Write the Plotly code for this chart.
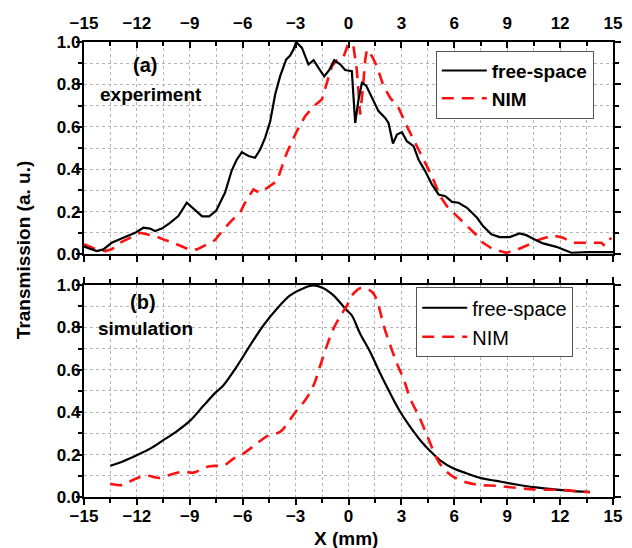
import plotly.graph_objects as go

# ---------------- data ----------------
# (a) experiment
exp_fs_x = [-15.0, -14.6, -14.28, -13.9, -13.43, -12.77, -12.1, -11.63, -11.25, -10.97, -10.59, -10.12,
            -9.65, -9.17, -8.7, -8.3, -7.9, -7.5, -7.0, -6.62, -6.34, -6.05, -5.67, -5.30, -5.01, -4.73,
            -4.44, -4.16, -3.88, -3.54, -3.31, -3.12, -2.97, -2.64, -2.27, -1.98, -1.70, -1.38, -1.08,
            -0.81, -0.47, -0.19, 0.19, 0.38, 0.57, 0.76, 1.0, 1.33, 1.70, 2.08, 2.27, 2.52, 2.75, 3.03,
            3.31, 3.69, 3.97, 4.35, 4.73, 5.11, 5.49, 5.87, 6.24, 6.72, 7.29, 7.63, 8.10, 8.57, 9.14,
            9.70, 10.08, 10.56, 11.03, 11.79, 12.26, 12.64, 13.49, 15.0]
exp_fs_y = [0.035, 0.022, 0.014, 0.022, 0.053, 0.077, 0.10, 0.124, 0.12, 0.108, 0.12, 0.147,
            0.179, 0.242, 0.205, 0.178, 0.178, 0.205, 0.29, 0.395, 0.445, 0.48, 0.462, 0.454, 0.493, 0.548,
            0.626, 0.752, 0.838, 0.917, 0.936, 0.964, 1.0, 0.972, 0.894, 0.914, 0.878, 0.838, 0.87,
            0.914, 0.895, 0.868, 0.862, 0.618, 0.729, 0.807, 0.795, 0.736, 0.674, 0.642, 0.618, 0.521, 0.564, 0.575,
            0.532, 0.509, 0.446, 0.391, 0.328, 0.281, 0.273, 0.246, 0.242, 0.218, 0.171, 0.132, 0.093, 0.08, 0.08,
            0.097, 0.089, 0.069, 0.05, 0.034, 0.017, 0.006, 0.009, 0.009]

exp_nim_x = [-15.0, -14.47, -13.8, -13.43, -12.96, -12.39, -11.82, -11.44, -10.87, -10.5, -9.74, -8.98,
             -8.6, -8.13, -7.57, -7.09, -6.6, -6.15, -5.77, -5.39, -5.05, -4.73, -4.06, -3.50, -2.93, -2.46,
             -1.98, -1.51, -1.22, -0.94, -0.66, -0.3, 0.0, 0.28, 0.47, 0.66, 0.81, 0.95, 1.04, 1.33, 1.61,
             1.99, 2.37, 2.84, 3.31, 3.78, 4.26, 4.73, 5.20, 5.58, 6.15, 6.72, 7.25, 7.63, 8.20, 8.95, 9.52,
             10.27, 10.84, 11.60, 12.17, 12.73, 13.49, 14.34, 14.53, 14.9]
exp_nim_y = [0.046, 0.027, 0.014, 0.022, 0.053, 0.077, 0.10, 0.093, 0.082, 0.069, 0.046, 0.019,
             0.022, 0.041, 0.066, 0.116, 0.16, 0.195, 0.258, 0.305, 0.289, 0.305, 0.344, 0.477, 0.58, 0.65,
             0.697, 0.729, 0.807, 0.886, 0.914, 0.925, 0.995, 0.98, 0.87, 0.658, 0.776, 0.917, 0.964, 0.933, 0.886,
             0.791, 0.736, 0.689, 0.603, 0.524, 0.446, 0.367, 0.273, 0.226, 0.179, 0.132, 0.09, 0.053, 0.022, 0.006, 0.019,
             0.046, 0.069, 0.088, 0.077, 0.053, 0.053, 0.053, 0.038, 0.077]

# (b) simulation
sim_fs_x = [-13.51, -12.77, -12.01, -11.25, -10.5, -9.74, -8.98, -8.23, -7.57, -7.09, -6.34, -5.58, -4.82,
            -4.06, -3.31, -2.55, -1.98, -1.42, -0.85, -0.47, -0.09, 0.19, 0.66, 1.23, 1.80, 2.37, 2.94,
            3.50, 4.07, 4.64, 5.20, 5.96, 6.72, 7.47, 8.38, 9.52, 10.65, 11.79, 12.92, 13.68]
sim_fs_y = [0.147, 0.169, 0.197, 0.228, 0.268, 0.31, 0.36, 0.43, 0.49, 0.527, 0.615, 0.715, 0.81,
            0.888, 0.951, 0.985, 0.998, 0.985, 0.951, 0.916, 0.88, 0.856, 0.77, 0.684, 0.582, 0.488, 0.401,
            0.331, 0.268, 0.216, 0.173, 0.134, 0.111, 0.09, 0.076, 0.059, 0.045, 0.035, 0.027, 0.024]

sim_nim_x = [-13.51, -12.86, -12.10, -11.44, -10.69, -10.21, -9.36, -8.79, -8.04, -7.51, -7.09, -6.52,
             -5.96, -5.20, -4.54, -3.88, -3.41, -2.93, -2.46, -1.98, -1.60, -1.22, -0.85, -0.47, -0.09,
             0.28, 0.66, 1.04, 1.42, 1.70, 1.99, 2.37, 2.75, 3.12, 3.50, 3.97, 4.45, 5.01, 5.39, 5.96,
             6.72, 7.47, 8.38, 9.52, 10.65, 11.79, 12.92, 13.68]
sim_nim_y = [0.062, 0.056, 0.085, 0.10, 0.09, 0.103, 0.12, 0.115, 0.142, 0.147, 0.147, 0.181,
             0.205, 0.252, 0.291, 0.307, 0.354, 0.409, 0.456, 0.527, 0.621, 0.715, 0.794, 0.852, 0.903,
             0.959, 0.985, 0.982, 0.959, 0.903, 0.81, 0.715, 0.629, 0.558, 0.464, 0.385, 0.291, 0.181, 0.134, 0.095,
             0.068, 0.056, 0.053, 0.043, 0.035, 0.034, 0.028, 0.022]

x_ticks = [-15, -12, -9, -6, -3, 0, 3, 6, 9, 12, 15]
y_ticks = [0.0, 0.2, 0.4, 0.6, 0.8, 1.0]
legend_names = ["free-space", "NIM"]

# ---------------- figure ----------------
FONT = "Liberation Sans, Arial, sans-serif"
RED = "#ff1010"
DASH = "12px,8px"

fig = go.Figure()
# top panel: free-space drawn on the top (labelled) x axis, NIM on the bottom one (same range)
fig.add_trace(go.Scatter(x=exp_fs_x, y=exp_fs_y, xaxis="x3", yaxis="y", mode="lines",
                         name=legend_names[0], legend="legend",
                         line=dict(color="black", width=2.2)))
fig.add_trace(go.Scatter(x=exp_nim_x, y=exp_nim_y, xaxis="x", yaxis="y", mode="lines",
                         name=legend_names[1], legend="legend",
                         line=dict(color=RED, width=2.6, dash=DASH)))
fig.add_trace(go.Scatter(x=sim_fs_x, y=sim_fs_y, xaxis="x2", yaxis="y2", mode="lines",
                         name=legend_names[0], legend="legend2", line_shape="spline",
                         line=dict(color="black", width=2.2)))
fig.add_trace(go.Scatter(x=sim_nim_x, y=sim_nim_y, xaxis="x2", yaxis="y2", mode="lines",
                         name=legend_names[1], legend="legend2", line_shape="spline",
                         line=dict(color=RED, width=2.6, dash=DASH)))

GRID = "#b5b5b5"
tickfont = dict(family=FONT, size=17, color="black", weight="bold")

common_x = dict(range=[-15, 15], tickmode="array", tickvals=x_ticks, automargin=False,
                showline=True, linecolor="black", linewidth=2.2,
                showgrid=True, gridcolor=GRID, griddash="dot", gridwidth=1,
                zeroline=False, tickcolor="black", tickwidth=2, ticklen=6,
                tickfont=tickfont)
minor_x_grid = dict(dtick=1.5, tick0=0, ticklen=4, tickwidth=2, tickcolor="black",
                    showgrid=True, gridcolor=GRID, griddash="dot", gridwidth=1)
common_y = dict(range=[0, 1.0], tickmode="array", tickvals=y_ticks, tickformat=".1f", automargin=False,
                showline=True, linecolor="black", linewidth=2.2,
                showgrid=True, gridcolor=GRID, griddash="dot", gridwidth=1,
                zeroline=False, ticks="outside", tickcolor="black", tickwidth=2, ticklen=6,
                mirror="ticks",
                minor=dict(dtick=0.1, tick0=0, ticklen=4, tickwidth=2, tickcolor="black", ticks="outside",
                           showgrid=True, gridcolor=GRID, griddash="dot", gridwidth=1),
                tickfont=tickfont, ticklabelstandoff=-8)

x1 = dict(common_x)
x1.update(anchor="y", domain=[0, 1], ticks="outside", showticklabels=False, mirror=False,
          minor=dict(minor_x_grid, ticks="outside"))
x3 = dict(common_x)
x3.update(anchor="y", overlaying="x", side="top", ticks="inside", matches="x",
          showticklabels=True, showgrid=False, ticklabelstandoff=4,
          minor=dict(ticks="inside", dtick=1.5, tick0=0, ticklen=4, tickwidth=2, tickcolor="black", showgrid=False))
x2 = dict(common_x)
x2.update(anchor="y2", domain=[0, 1], ticks="outside", showticklabels=True,
          mirror="ticks", ticklabelstandoff=-4,
          minor=dict(minor_x_grid, ticks="outside"))

y1 = dict(common_y); y1.update(anchor="x", domain=[0.534, 1.0])
y2 = dict(common_y); y2.update(anchor="x2", domain=[0.0, 0.466])

# the page body adds an 8 px offset, so the figure is 8 px smaller and margins shifted
fig.update_layout(
    width=624, height=540,
    margin=dict(l=76, r=19, t=34, b=51, autoexpand=False),
    paper_bgcolor="white", plot_bgcolor="white",
    font=dict(family=FONT, color="black"),
    xaxis=x1, xaxis2=x2, xaxis3=x3, yaxis=y1, yaxis2=y2,
    legend=dict(x=0.665, y=0.981, xanchor="left", yanchor="top", bgcolor="white",
                bordercolor="#555555", borderwidth=1, itemwidth=45,
                font=dict(family=FONT, size=19, color="black", weight="bold"),
                tracegroupgap=0),
    legend2=dict(x=0.628, y=0.461, xanchor="left", yanchor="top", bgcolor="white",
                 bordercolor="#555555", borderwidth=1, itemwidth=45,
                 font=dict(family=FONT, size=20, color="black"),
                 tracegroupgap=0),
    showlegend=True,
    annotations=[
        dict(text="<b>(a)</b>", x=0.115, y=0.949, xref="paper", yref="paper", showarrow=False,
             font=dict(family=FONT, size=20, color="black"), xanchor="center", yanchor="middle"),
        dict(text="<b>experiment</b>", x=0.127, y=0.884, xref="paper", yref="paper", showarrow=False,
             font=dict(family=FONT, size=19, color="black"), xanchor="center", yanchor="middle"),
        dict(text="<b>(b)</b>", x=0.111, y=0.429, xref="paper", yref="paper", showarrow=False,
             font=dict(family=FONT, size=20, color="black"), xanchor="center", yanchor="middle"),
        dict(text="<b>simulation</b>", x=0.116, y=0.371, xref="paper", yref="paper", showarrow=False,
             font=dict(family=FONT, size=19, color="black"), xanchor="center", yanchor="middle"),
        dict(text="<b>Transmission (a. u.)</b>", x=-0.113, y=0.543, xref="paper", yref="paper",
             showarrow=False, textangle=-90,
             font=dict(family=FONT, size=19, color="black"), xanchor="center", yanchor="middle"),
        dict(text="<b>X (mm)</b>", x=0.495, y=-0.091, xref="paper", yref="paper", showarrow=False,
             font=dict(family=FONT, size=19, color="black"), xanchor="center", yanchor="middle"),
    ],
)

fig.write_html("out.html")
